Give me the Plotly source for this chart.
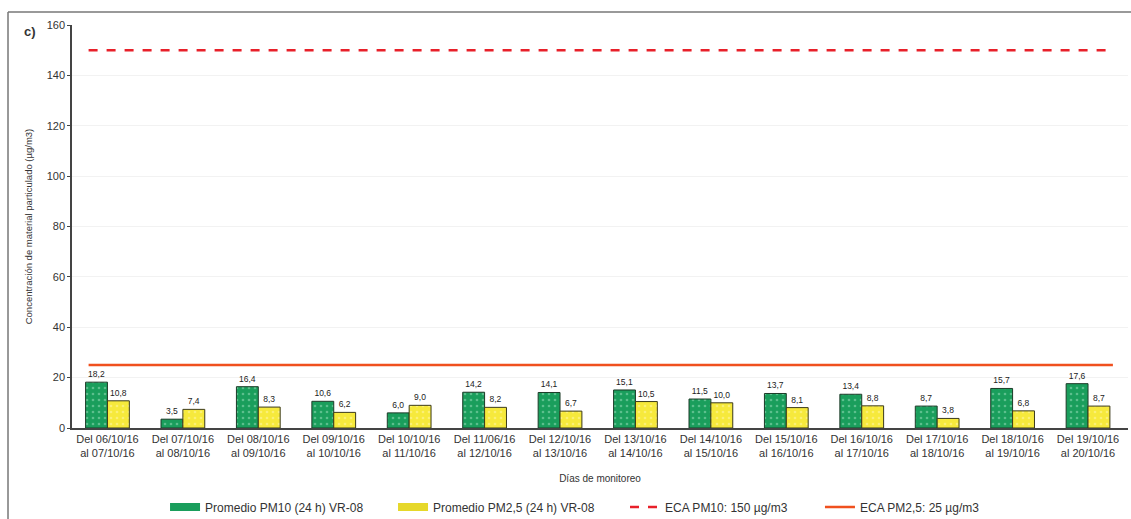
import plotly.graph_objects as go

categories = [
    "Del 06/10/16<br>al 07/10/16", "Del 07/10/16<br>al 08/10/16", "Del 08/10/16<br>al 09/10/16",
    "Del 09/10/16<br>al 10/10/16", "Del 10/10/16<br>al 11/10/16", "Del 11/06/16<br>al 12/10/16",
    "Del 12/10/16<br>al 13/10/16", "Del 13/10/16<br>al 14/10/16", "Del 14/10/16<br>al 15/10/16",
    "Del 15/10/16<br>al 16/10/16", "Del 16/10/16<br>al 17/10/16", "Del 17/10/16<br>al 18/10/16",
    "Del 18/10/16<br>al 19/10/16", "Del 19/10/16<br>al 20/10/16",
]
pm10 = [18.2, 3.5, 16.4, 10.6, 6.0, 14.2, 14.1, 15.1, 11.5, 13.7, 13.4, 8.7, 15.7, 17.6]
pm25 = [10.8, 7.4, 8.3, 6.2, 9.0, 8.2, 6.7, 10.5, 10.0, 8.1, 8.8, 3.8, 6.8, 8.7]
eca_pm10 = 150
eca_pm25 = 25
y_ticks = [0, 20, 40, 60, 80, 100, 120, 140, 160]
series_names = ["Promedio PM10 (24 h) VR-08", "Promedio PM2,5 (24 h) VR-08",
                "ECA PM10: 150 µg/m3", "ECA PM2,5: 25 µg/m3"]

idx = list(range(len(categories)))
fmt = lambda v: f"{v:.1f}".replace(".", ",")
FONT = "Liberation Sans, Arial, sans-serif"
GREEN, YELLOW, RED, ORANGE = "#1a9e5c", "#f6e93c", "#e8202a", "#f0501e"

fig = go.Figure()
fig.add_trace(go.Bar(
    x=idx, y=pm10, name=series_names[0], showlegend=False, legendgroup="g1",
    marker=dict(color=GREEN, line=dict(color="#1d3b28", width=1),
                pattern=dict(shape=".", fgcolor="#9ee0bd", size=6, solidity=0.15)),
    text=[fmt(v) for v in pm10], textposition="outside",
    textfont=dict(size=8.5, color="#222", family=FONT), cliponaxis=False,
))
fig.add_trace(go.Bar(
    x=idx, y=pm25, name=series_names[1], showlegend=False, legendgroup="g2",
    marker=dict(color=YELLOW, line=dict(color="#3b3a1a", width=1),
                pattern=dict(shape=".", fgcolor="#fff8b0", size=6, solidity=0.15)),
    text=[fmt(v) for v in pm25], textposition="outside",
    textfont=dict(size=8.5, color="#222", family=FONT), cliponaxis=False,
))
line_x = [idx[0] - 0.25, idx[-1] + 0.33]
fig.add_trace(go.Scatter(
    x=line_x, y=[eca_pm10, eca_pm10], mode="lines", name=series_names[2], legend="legend3",
    line=dict(color=RED, width=2.5, dash="dash"),
))
fig.add_trace(go.Scatter(
    x=line_x, y=[eca_pm25, eca_pm25], mode="lines", name=series_names[3], legend="legend4",
    line=dict(color=ORANGE, width=2.5),
))
# legend patches for the bar series (legend-only entries)
fig.add_trace(go.Scatter(x=[None], y=[None], mode="lines", name=series_names[0],
                         legend="legend", legendgroup="g1", line=dict(color=GREEN, width=8)))
fig.add_trace(go.Scatter(x=[None], y=[None], mode="lines", name=series_names[1],
                         legend="legend2", legendgroup="g2", line=dict(color="#e6d82a", width=8)))

leg_common = dict(orientation="h", xanchor="left", y=-0.196, yanchor="middle",
                  font=dict(size=12, family=FONT, color="#333"), bgcolor="rgba(0,0,0,0)")
legend_x = [0.0881, 0.304, 0.5237, 0.7083]

fig.update_layout(
    width=1131, height=519,
    margin=dict(l=72, r=3, t=25, b=91, autoexpand=False),
    paper_bgcolor="white", plot_bgcolor="white",
    font=dict(family=FONT, size=11, color="#333"),
    barmode="group", bargap=0.42, bargroupgap=0.0,
    showlegend=True,
    legend=dict(x=legend_x[0], **leg_common),
    legend2=dict(x=legend_x[1], **leg_common),
    legend3=dict(x=legend_x[2], **leg_common),
    legend4=dict(x=legend_x[3], **leg_common),
    annotations=[dict(text="<b>c)</b>", xref="paper", yref="paper", x=-0.04, y=0.985,
                      xanchor="center", yanchor="middle", showarrow=False,
                      font=dict(size=13, family=FONT, color="#333"))],
    shapes=[
        dict(type="line", xref="paper", yref="paper", x0=-0.0606, x1=1.01, y0=1.032, y1=1.032,
             line=dict(color="#777", width=1.5)),
        dict(type="line", xref="paper", yref="paper", x0=-0.0606, x1=-0.0606, y0=-0.25, y1=1.032,
             line=dict(color="#777", width=1.5)),
    ],
)
fig.update_xaxes(
    tickmode="array", tickvals=idx, ticktext=categories,
    range=[idx[0] - 0.47, idx[-1] + 0.53],
    showline=True, linecolor="#444", linewidth=1.5,
    ticks="", showgrid=False, zeroline=False,
    tickfont=dict(size=11, color="#333"),
    title=dict(text="Días de monitoreo", font=dict(size=10), standoff=17),
)
fig.update_yaxes(
    range=[0, 160], tickvals=y_ticks,
    showline=True, linecolor="#444", linewidth=1.5,
    ticks="outside", ticklen=3, tickcolor="#444",
    showgrid=True, gridcolor="#f2f2f2", zeroline=False,
    tickfont=dict(size=11, color="#333"),
    title=dict(text="Concentración de material particulado (µg/m3)", font=dict(size=9.5), standoff=12),
)

fig.write_html("out.html")
